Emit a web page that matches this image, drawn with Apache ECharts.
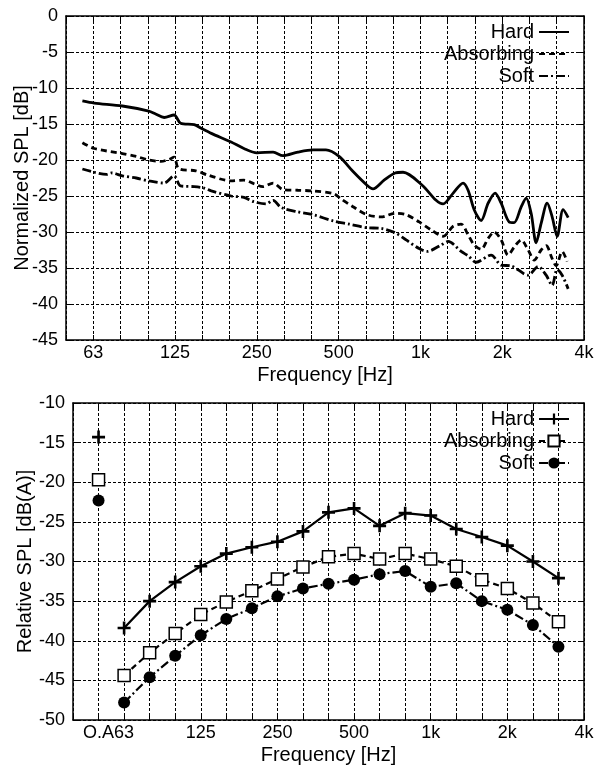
<!DOCTYPE html>
<html>
<head>
<meta charset="utf-8">
<script src="https://cdn.jsdelivr.net/npm/echarts@6/dist/echarts.min.js"></script>
<style>
  html, body { margin: 0; padding: 0; background: #fff; }
  #chart { width: 600px; height: 766px; }
</style>
</head>
<body>
<div id="chart"></div>
<script>
// top panel: narrow band curves (frequency in Hz, level in dB)
const hardFreq = [57, 63, 80, 100, 106, 114, 124, 131, 147, 156, 170, 201, 224, 250, 287, 312, 354, 403, 449, 502,
  565, 636, 669, 735, 807, 863, 1015, 1142, 1212, 1320, 1436, 1498, 1577, 1673, 1775, 1883, 1982, 2121, 2213,
  2349, 2451, 2556, 2667, 2782, 2928, 3054, 3186, 3352, 3498];
const hardLevel = [-11.8, -12.1, -12.5, -13.2, -13.6, -14.1, -13.75, -14.9, -15.1, -15.6, -16.3, -17.5, -18.4, -19.0, -18.9, -19.4, -18.9, -18.6, -18.6, -19.5,
  -21.6, -23.5, -24.0, -22.8, -21.8, -21.7, -23.5, -25.6, -26.1, -24.6, -23.2, -24.2, -26.9, -28.4, -26.0, -24.6, -26.0, -28.6, -28.7,
  -26.5, -25.3, -27.4, -31.5, -28.8, -26.0, -27.9, -30.6, -26.9, -28.0];

const absFreq = [57, 63, 80, 90, 100, 111, 119, 124, 129, 149, 165, 201, 224, 244, 263, 287, 312, 354, 403, 481,
  510, 565, 636, 717, 807, 886, 989, 1095, 1212, 1320, 1412, 1498, 1577, 1673, 1775, 1868, 1982, 2103, 2213,
  2349, 2492, 2623, 2782, 2902, 3054, 3160, 3324, 3468];
const absLevel = [-17.6, -18.4, -19.1, -19.5, -20.0, -20.2, -19.9, -19.6, -21.2, -21.5, -22.1, -22.9, -22.8, -23.3, -23.7, -23.2, -24.1, -24.2, -24.3, -24.7,
  -25.4, -26.5, -27.6, -27.9, -27.4, -27.6, -28.6, -29.7, -30.6, -29.2, -28.9, -30.4, -31.8, -32.4, -30.9, -30.0, -31.1, -33.2, -32.1,
  -31.1, -32.5, -33.9, -32.5, -31.9, -33.7, -34.7, -32.7, -34.1];

const softFreq = [57, 63, 70, 73, 80, 90, 100, 114, 124, 131, 147, 160, 170, 201, 224, 244, 270, 287, 307, 354,
  403, 481, 546, 636, 717, 807, 886, 989, 1058, 1192, 1265, 1412, 1498, 1603, 1821, 1982, 2157, 2492, 2712,
  2902, 3054, 3186, 3324, 3498];
const softLevel = [-21.25, -21.7, -22.0, -21.8, -22.2, -22.5, -22.9, -23.2, -22.2, -23.6, -23.7, -23.9, -24.3, -25.0, -25.2, -25.8, -26.1, -25.6, -26.6, -27.2,
  -27.6, -28.5, -28.9, -29.4, -29.5, -30.1, -31.1, -32.3, -32.7, -31.8, -31.3, -32.7, -33.3, -34.2, -33.2, -34.6, -34.7, -36.0, -34.8,
  -36.0, -37.4, -35.2, -36.0, -37.9];

const topTickLabels = ['63', '125', '250', '500', '1k', '2k', '4k'];

// bottom panel: 1/3 octave bands, dB(A)
const bandNames = ['40', 'O.A', '63', '80', '100', '125', '160', '200', '250', '315', '400', '500', '630', '800',
  '1k', '1.25k', '1.6k', '2k', '2.5k', '3.15k', '4k'];
const bottomTickLabels = ['O.A', '63', '125', '250', '500', '1k', '2k', '4k'];
const measuredBands = bandNames.slice(2, 20);
const hardA = [-38.4, -35.0, -32.6, -30.6, -29.0, -28.2, -27.5, -26.2, -23.8, -23.3, -25.5, -23.9, -24.2, -25.9, -26.9, -28.0, -30.0, -32.1];
const absA = [-44.4, -41.5, -39.1, -36.7, -35.1, -33.7, -32.2, -30.7, -29.4, -29.0, -29.7, -29.0, -29.7, -30.6, -32.3, -33.4, -35.25, -37.6];
const softA = [-47.8, -44.6, -41.9, -39.3, -37.25, -35.9, -34.4, -33.4, -32.8, -32.3, -31.6, -31.2, -33.2, -32.75, -35.0, -36.1, -38.0, -40.75];
const overallA = { hard: -14.3, abs: -19.7, soft: -22.3 };

const band = f => 3 * Math.log2(f / 1000);
const pairs = (fs, ls) => fs.map((f, i) => [band(f), ls[i]]);

const FONT = "'Liberation Sans', Arial, Helvetica, sans-serif";
const txt = { color: '#000', fontSize: 20, fontFamily: FONT };
const num = { color: '#000', fontSize: 18, fontFamily: FONT };
const grid = { type: [3, 2], color: '#000', width: 1 };
const frame = { show: true, onZero: false, lineStyle: { color: '#000', width: 1.5 } };
const tick = { show: true, inside: true, length: 5, lineStyle: { color: '#000', width: 1 } };
const plus = 'path://M4,0 H6 V4 H10 V6 H6 V10 H4 V6 H0 V4 H4 Z';
const dashDot = [9, 3, 2, 3];

const chart = echarts.init(document.getElementById('chart'));
chart.setOption({
  animation: false,
  backgroundColor: '#fff',
  textStyle: { fontFamily: FONT },
  grid: [
    { left: 66, top: 16, width: 518, height: 324 },
    { left: 73, top: 403, width: 511, height: 320 }
  ],
  legend: [
    {
      data: ['Hard', 'Absorbing', 'Soft'],
      orient: 'vertical', align: 'right', right: 25, top: 17,
      itemWidth: 30, itemHeight: 14, itemGap: 2,
      itemStyle: { opacity: 0 },
      textStyle: txt
    },
    {
      data: ['Hard A', 'Absorbing A', 'Soft A'],
      orient: 'vertical', align: 'right', right: 25, top: 404,
      itemWidth: 30, itemHeight: 14, itemGap: 2,
      textStyle: txt,
      formatter: name => name.replace(' A', '')
    }
  ],
  xAxis: [
    {
      gridIndex: 0, type: 'value', min: -13, max: 6, interval: 1,
      name: 'Frequency [Hz]', nameLocation: 'middle', nameGap: 25, nameTextStyle: txt,
      axisLine: frame, axisTick: tick,
      axisLabel: {
        ...num, margin: 4,
        formatter: v => ((v + 12) % 3 === 0 ? topTickLabels[(v + 12) / 3] || '' : '')
      },
      splitLine: { show: true, lineStyle: grid }
    },
    {
      gridIndex: 0, type: 'value', position: 'top', min: -13, max: 6, interval: 1,
      axisLine: frame, axisTick: tick, axisLabel: { show: false }, splitLine: { show: false }
    },
    {
      gridIndex: 1, type: 'category', data: bandNames, boundaryGap: false,
      name: 'Frequency [Hz]', nameLocation: 'middle', nameGap: 25, nameTextStyle: txt,
      axisLine: frame, axisTick: { ...tick, interval: 0 },
      axisLabel: { ...num, margin: 4, interval: (i, v) => bottomTickLabels.includes(v) },
      splitLine: { show: true, interval: 0, lineStyle: grid }
    },
    {
      gridIndex: 1, type: 'category', data: bandNames, boundaryGap: false, position: 'top',
      axisLine: frame, axisTick: { ...tick, interval: 0 }, axisLabel: { show: false }, splitLine: { show: false }
    }
  ],
  yAxis: [
    {
      gridIndex: 0, type: 'value', min: -45, max: 0, interval: 5,
      name: 'Normalized SPL [dB]', nameLocation: 'middle', nameGap: 34, nameMoveOverlap: false, nameTextStyle: txt,
      axisLine: frame, axisTick: tick, axisLabel: { ...num, margin: 8 },
      splitLine: { show: true, lineStyle: grid }
    },
    {
      gridIndex: 0, type: 'value', position: 'right', min: -45, max: 0, interval: 5,
      axisLine: frame, axisTick: tick, axisLabel: { show: false }, splitLine: { show: false }
    },
    {
      gridIndex: 1, type: 'value', min: -50, max: -10, interval: 5,
      name: 'Relative SPL [dB(A)]', nameLocation: 'middle', nameGap: 38, nameMoveOverlap: false, nameTextStyle: txt,
      axisLine: frame, axisTick: tick, axisLabel: { ...num, margin: 8 },
      splitLine: { show: true, lineStyle: grid }
    },
    {
      gridIndex: 1, type: 'value', position: 'right', min: -50, max: -10, interval: 5,
      axisLine: frame, axisTick: tick, axisLabel: { show: false }, splitLine: { show: false }
    }
  ],
  series: [
    {
      name: 'Hard', type: 'line', xAxisIndex: 0, yAxisIndex: 0, data: pairs(hardFreq, hardLevel),
      symbol: 'none', smooth: 0.3, lineStyle: { color: '#000', width: 2.8 }, itemStyle: { color: '#000' }
    },
    {
      name: 'Absorbing', type: 'line', xAxisIndex: 0, yAxisIndex: 0, data: pairs(absFreq, absLevel),
      symbol: 'none', smooth: 0.3, lineStyle: { color: '#000', width: 2.8, type: [6, 4] }, itemStyle: { color: '#000' }
    },
    {
      name: 'Soft', type: 'line', xAxisIndex: 0, yAxisIndex: 0, data: pairs(softFreq, softLevel),
      symbol: 'none', smooth: 0.3, lineStyle: { color: '#000', width: 2.8, type: dashDot }, itemStyle: { color: '#000' }
    },
    {
      name: 'Hard A', type: 'line', xAxisIndex: 2, yAxisIndex: 2,
      data: measuredBands.map((b, i) => [b, hardA[i]]),
      symbol: plus, symbolSize: 13,
      lineStyle: { color: '#000', width: 2.2 }, itemStyle: { color: '#000' }
    },
    {
      name: 'Absorbing A', type: 'line', xAxisIndex: 2, yAxisIndex: 2,
      data: measuredBands.map((b, i) => [b, absA[i]]),
      symbol: 'rect', symbolSize: 12,
      lineStyle: { color: '#000', width: 2.2, type: [6, 4] },
      itemStyle: { color: '#fff', borderColor: '#000', borderWidth: 1.5 }
    },
    {
      name: 'Soft A', type: 'line', xAxisIndex: 2, yAxisIndex: 2,
      data: measuredBands.map((b, i) => [b, softA[i]]),
      symbol: 'circle', symbolSize: 12,
      lineStyle: { color: '#000', width: 2.2, type: dashDot }, itemStyle: { color: '#000' }
    },
    {
      name: 'O.A hard', type: 'scatter', xAxisIndex: 2, yAxisIndex: 2, data: [['O.A', overallA.hard]],
      symbol: plus, symbolSize: 13, itemStyle: { color: '#000', opacity: 1 }
    },
    {
      name: 'O.A absorbing', type: 'scatter', xAxisIndex: 2, yAxisIndex: 2, data: [['O.A', overallA.abs]],
      symbol: 'rect', symbolSize: 12, itemStyle: { color: '#fff', borderColor: '#000', borderWidth: 1.5, opacity: 1 }
    },
    {
      name: 'O.A soft', type: 'scatter', xAxisIndex: 2, yAxisIndex: 2, data: [['O.A', overallA.soft]],
      symbol: 'circle', symbolSize: 12, itemStyle: { color: '#000', opacity: 1 }
    }
  ]
});
</script>
</body>
</html>
